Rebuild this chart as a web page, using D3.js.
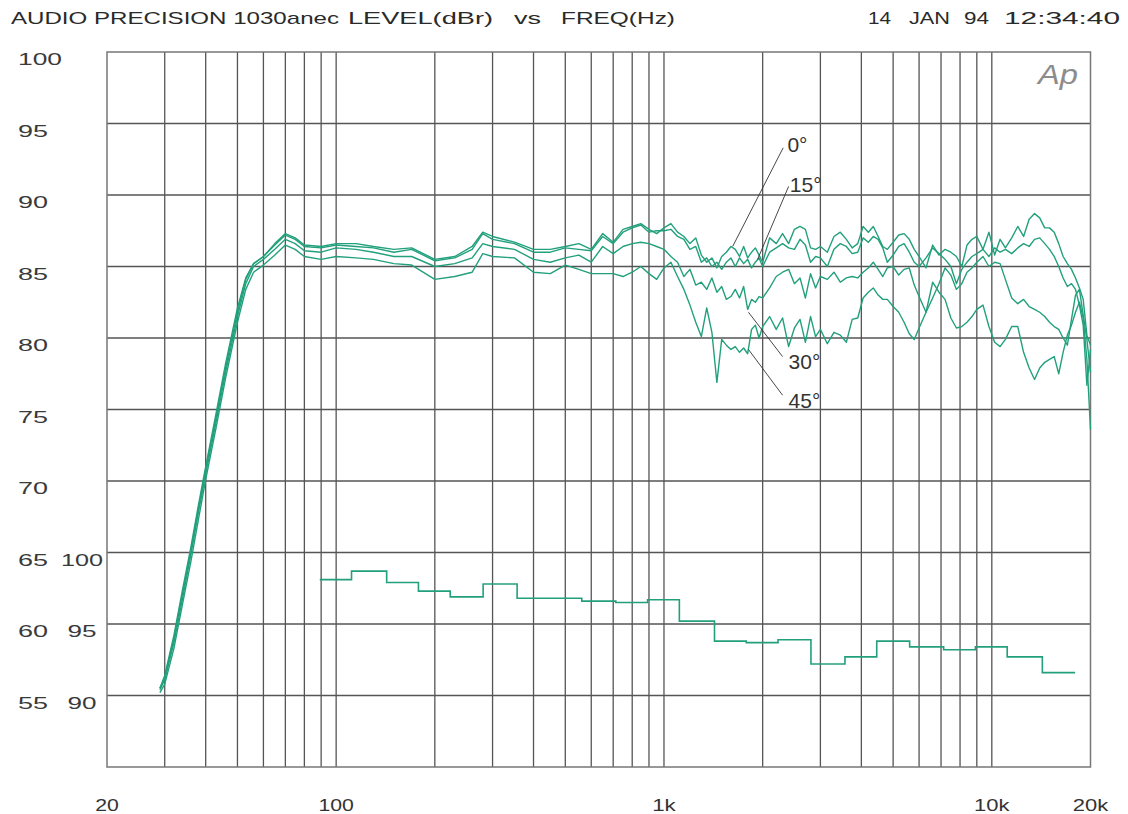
<!DOCTYPE html>
<html>
<head>
<meta charset="utf-8">
<script src="https://cdn.jsdelivr.net/npm/d3@7"></script>
<style>
  body { margin: 0; background: #fff; }
  svg { display: block; }
  text { font-family: "Liberation Sans", Arial, sans-serif; fill: #333; }
</style>
</head>
<body>
<script>
// sweep frequencies, Hz
const freq = [29, 30, 32, 34, 36, 38, 40, 43, 46, 50, 53, 56, 60, 65, 70, 75, 80, 90, 100, 115,
  130, 150, 170, 200, 230, 260, 280, 300, 350, 400, 450, 500, 550, 600, 650, 700, 750, 800, 850, 900, 950,
  1000, 1050, 1100, 1150, 1200, 1250, 1300, 1350, 1400, 1450, 1500, 1550, 1600, 1650, 1700, 1750, 1800, 1850, 1900, 1950,
  2000, 2100, 2200, 2300, 2400, 2500, 2600, 2700, 2800, 2900, 3000, 3150, 3300, 3450, 3600, 3750, 3900, 4050, 4200, 4350,
  4500, 4650, 4800, 5000, 5200, 5400, 5600, 5800, 6000, 6300, 6600, 6900, 7200, 7500, 7800, 8100, 8400, 8700, 9000, 9400,
  9800, 10200, 10600, 11000, 11500, 12000, 12500, 13000, 13500, 14000, 14500, 15000, 15500, 16000, 16500, 17000, 17500,
  18000, 18500, 19000, 19500, 20000];

// level, dBr, one list per angle
const level0 = [55.5, 56.4, 59.2, 62.4, 65.3, 68.3, 71.0, 74.7, 78.2, 82.1, 84.2, 85.2, 85.7, 86.6, 87.3, 87.0, 86.5, 86.4, 86.6, 86.6,
  86.4, 86.2, 86.3, 85.5, 85.7, 86.4, 87.4, 87.1, 86.7, 86.2, 86.2, 86.4, 86.6, 86.2, 87.3, 86.7, 87.6, 87.8, 88.0, 87.6, 87.3,
  87.7, 88.0, 87.4, 87.1, 86.6, 87.0, 85.8, 85.3, 85.6, 84.9, 85.7, 86.0, 86.4, 86.2, 85.7, 86.4, 85.6, 86.0, 86.3, 85.8,
  85.3, 87.0, 86.6, 87.3, 86.6, 87.6, 87.8, 87.6, 86.3, 86.2, 86.4, 86.0, 87.1, 87.4, 86.9, 86.3, 86.6, 87.8, 87.4, 87.8,
  87.1, 86.4, 86.2, 86.7, 87.2, 87.3, 86.9, 86.2, 85.7, 84.9, 86.5, 85.8, 86.2, 86.0, 85.7, 85.0, 86.5, 86.9, 87.1, 86.2,
  87.4, 85.8, 86.9, 86.3, 87.0, 87.8, 87.1, 88.3, 88.7, 88.4, 87.7, 87.7, 87.4, 86.6, 85.7, 85.2, 84.8,
  84.2, 83.5, 82.7, 80.2, 79.5];
const level15 = [55.5, 56.2, 59.0, 62.1, 65.0, 68.0, 70.8, 74.4, 77.9, 81.8, 84.1, 85.2, 85.7, 86.5, 87.2, 86.9, 86.4, 86.3, 86.5, 86.4,
  86.3, 86.0, 86.2, 85.4, 85.6, 86.2, 87.3, 86.9, 86.6, 86.0, 86.0, 86.3, 86.2, 86.1, 87.1, 86.6, 87.4, 87.7, 87.9, 87.4, 87.5,
  87.5, 87.6, 87.1, 86.9, 86.2, 86.4, 85.3, 85.6, 85.0, 85.3, 84.8, 85.3, 85.6, 85.0, 85.6, 85.2, 85.5, 84.9, 85.3, 85.6,
  85.0, 86.0, 86.3, 86.6, 86.3, 86.2, 86.9, 86.5, 85.3, 85.7, 85.6, 85.0, 86.2, 86.6, 86.4, 85.9, 86.0, 87.0, 86.7, 87.1,
  86.9, 86.3, 85.3, 85.8, 86.4, 86.6, 86.0, 85.3, 85.0, 85.6, 86.3, 85.9, 85.5, 85.0, 83.8, 84.8, 85.3, 85.7, 85.9, 86.2,
  85.7, 86.3, 86.0, 86.2, 85.9, 86.3, 86.6, 86.4, 86.9, 87.0, 86.6, 86.2, 85.7, 85.0, 84.2, 83.6, 83.8,
  83.4, 82.3, 80.9, 76.7, 79.2];
const level30 = [55.4, 56.1, 58.7, 61.8, 64.8, 67.8, 70.5, 74.1, 77.6, 81.5, 83.8, 85.0, 85.5, 86.2, 86.9, 86.6, 86.1, 86.0, 86.3, 86.2,
  86.0, 85.7, 85.7, 85.0, 85.2, 85.6, 86.6, 86.4, 86.2, 85.5, 85.3, 85.6, 85.8, 85.3, 86.4, 85.9, 86.4, 86.6, 86.7, 86.6, 86.4,
  86.2, 85.7, 85.3, 84.3, 84.8, 83.7, 83.9, 83.4, 84.2, 83.2, 83.6, 82.7, 82.9, 83.4, 82.8, 83.6, 82.0, 82.7, 82.5, 82.9,
  82.8, 83.5, 84.3, 84.6, 84.8, 83.8, 84.2, 82.8, 84.5, 83.5, 84.3, 84.1, 84.6, 83.9, 84.2, 84.3, 84.2, 84.6, 84.9, 85.3,
  84.8, 84.3, 84.9, 85.0, 84.4, 84.8, 84.9, 83.7, 82.9, 81.8, 82.8, 83.8, 84.9, 84.4, 83.4, 83.8, 84.6, 84.9, 85.3, 85.7,
  85.0, 85.3, 85.2, 84.1, 82.8, 82.4, 82.7, 82.2, 82.0, 81.8, 81.5, 81.1, 80.8, 80.6, 80.0, 79.5, 81.3,
  83.0, 83.4, 81.6, 79.9, 77.6];
const level45 = [55.2, 55.8, 58.3, 61.4, 64.3, 67.3, 70.1, 73.7, 77.2, 81.1, 83.4, 84.6, 85.1, 85.8, 86.5, 86.2, 85.7, 85.5, 85.7, 85.6,
  85.5, 85.2, 85.1, 84.1, 84.3, 84.6, 85.9, 85.7, 85.6, 84.6, 84.5, 85.1, 84.8, 84.5, 84.5, 84.5, 84.3, 84.6, 85.0, 84.5, 84.1,
  84.9, 85.3, 84.3, 83.4, 82.3, 81.1, 80.1, 82.1, 80.4, 76.9, 79.9, 79.5, 79.2, 79.4, 79.0, 79.3, 78.9, 80.6, 80.9, 80.0,
  80.8, 81.5, 80.6, 81.4, 79.4, 80.7, 81.3, 79.7, 81.5, 80.1, 80.6, 79.6, 80.4, 80.2, 79.7, 81.3, 81.4, 82.8, 83.2, 83.5,
  83.0, 82.7, 82.7, 82.2, 81.8, 81.1, 80.3, 79.9, 80.7, 81.8, 83.9, 83.2, 82.7, 81.4, 80.7, 80.8, 81.1, 81.5, 82.0, 82.3,
  80.8, 79.7, 79.4, 79.9, 80.8, 80.8, 79.0, 77.9, 77.1, 77.9, 78.3, 78.5, 78.7, 77.5, 79.0, 80.2, 80.9,
  81.8, 82.5, 81.4, 78.5, 73.6];

// third-octave band curve, read on the inner scale
const bandCenters = [100, 125, 160, 200, 250, 315, 400, 500, 630, 800, 1000, 1250, 1600, 2000, 2500,
  3150, 4000, 5000, 6300, 8000, 10000, 12500, 16000];
const bandLevels = [98.1, 98.7, 97.9, 97.3, 96.9, 97.8, 96.8, 96.8, 96.6, 96.5, 96.7, 95.2, 93.8, 93.7, 93.9,
  92.2, 92.7, 93.8, 93.4, 93.2, 93.4, 92.7, 91.6];

const levelTicks = [100, 95, 90, 85, 80, 75, 70, 65, 60, 55];
const bandTicks = [100, 95, 90];
const freqTicks = [20, 100, 1000, 10000, 20000];
const freqTickLabels = ["20", "100", "1k", "10k", "20k"];

const angleNames = ["0°", "15°", "30°", "45°"];
// leader tip on the curve, leader end, label corner  (Hz, dBr)
const angleTips = [[1620, 86.4], [1930, 85.5], [1810, 81.8], [1810, 79.2]];
const angleEnds = [[2310, 93.3], [2400, 90.6], [2300, 78.7], [2300, 76.0]];
const angleText = [[2380, 93.0], [2420, 90.2], [2400, 77.8], [2400, 75.1]];

const series = [level0, level15, level30, level45];

const W = 1128, H = 814;
const svg = d3.select("body").append("svg").attr("width", W).attr("height", H);

const x = d3.scaleLog().domain([20, 20000]).range([107, 1090.5]);
const y = d3.scaleLinear().domain([50, 100]).range([767, 52]);
const yBand = d3.scaleLinear().domain([85, 135]).range([767, 52]);

// header
const header = [
  ["AUDIO PRECISION 1030anec", 11, 328], ["LEVEL(dBr)", 348, 145], ["vs", 514, 27], ["FREQ(Hz)", 561, 114],
  ["14", 868, 23], ["JAN", 909, 41], ["94", 964, 25], ["12:34:40", 1004, 116]
];
svg.append("g").selectAll("text").data(header).join("text")
  .attr("x", d => d[1]).attr("y", 24)
  .attr("textLength", d => d[2]).attr("lengthAdjust", "spacingAndGlyphs")
  .style("font-size", "17px").style("fill", "#2a2a2a")
  .text(d => d[0]);

// grid
const grid = svg.append("g").attr("stroke", "#555").attr("stroke-width", 1.3);
grid.selectAll("line.v").data(x.ticks().filter(f => f > 20 && f < 20000)).join("line")
  .attr("class", "v")
  .attr("x1", d => x(d)).attr("x2", d => x(d))
  .attr("y1", y(100)).attr("y2", y(50));
grid.selectAll("line.h").data(y.ticks(10).filter(v => v > 50 && v < 100)).join("line")
  .attr("class", "h")
  .attr("x1", x(20)).attr("x2", x(20000))
  .attr("y1", d => y(d)).attr("y2", d => y(d));
svg.append("rect")
  .attr("x", x(20)).attr("y", y(100))
  .attr("width", x(20000) - x(20)).attr("height", y(50) - y(100))
  .attr("fill", "none").attr("stroke", "#777").attr("stroke-width", 1.5);

// tick labels
svg.append("g").selectAll("text").data(levelTicks).join("text")
  .attr("x", 18).attr("y", d => y(d) + 13)
  .attr("textLength", d => String(d).length === 3 ? 44 : 30).attr("lengthAdjust", "spacingAndGlyphs")
  .style("font-size", "16px").style("fill", "#3a3a3a")
  .text(d => d);
svg.append("g").selectAll("text").data(bandTicks).join("text")
  .attr("x", 82).attr("y", d => yBand(d) + 13).attr("text-anchor", "middle")
  .attr("textLength", d => String(d).length === 3 ? 42 : 29).attr("lengthAdjust", "spacingAndGlyphs")
  .style("font-size", "16px").style("fill", "#3a3a3a")
  .text(d => d);
svg.append("g").selectAll("text").data(freqTicks).join("text")
  .attr("x", d => x(d)).attr("y", 811).attr("text-anchor", "middle")
  .attr("textLength", (d, i) => freqTickLabels[i].length * 11.8).attr("lengthAdjust", "spacingAndGlyphs")
  .style("font-size", "16px").style("fill", "#333")
  .text((d, i) => freqTickLabels[i]);

// logo
svg.append("text").attr("x", 1038).attr("y", 84)
  .attr("textLength", 40).attr("lengthAdjust", "spacingAndGlyphs")
  .style("font-size", "27px").style("font-style", "italic").style("fill", "#8c8c8c")
  .text("Ap");

// response curves
const line = d3.line().x(d => x(d[0])).y(d => y(d[1]));
svg.append("g").selectAll("path").data(series).join("path")
  .attr("d", d => line(d3.zip(freq, d)))
  .attr("fill", "none").attr("stroke", "#22a07c").attr("stroke-width", 1.4)
  .attr("stroke-linejoin", "round");

// band step curve
const half = Math.pow(10, 0.05);
const last = bandCenters.length - 1;
const stepPts = bandCenters.map((c, i) => [c / half, bandLevels[i]]);
stepPts.push([bandCenters[last] * half, bandLevels[last]]);
svg.append("path")
  .attr("d", d3.line().curve(d3.curveStepAfter).x(d => x(d[0])).y(d => yBand(d[1]))(stepPts))
  .attr("fill", "none").attr("stroke", "#22a07c").attr("stroke-width", 1.6);

// angle labels with leaders
const notes = svg.append("g");
notes.selectAll("line").data(angleNames).join("line")
  .attr("x1", (d, i) => x(angleTips[i][0])).attr("y1", (d, i) => y(angleTips[i][1]))
  .attr("x2", (d, i) => x(angleEnds[i][0])).attr("y2", (d, i) => y(angleEnds[i][1]))
  .attr("stroke", "#333").attr("stroke-width", 0.9);
notes.selectAll("text").data(angleNames).join("text")
  .attr("x", (d, i) => x(angleText[i][0])).attr("y", (d, i) => y(angleText[i][1]))
  .style("font-size", "21px").style("fill", "#333")
  .text(d => d);
</script>
</body>
</html>
